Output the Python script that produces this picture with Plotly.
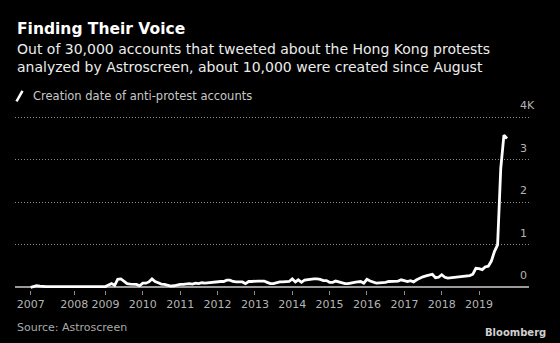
import pandas as pd
import plotly.graph_objects as go

# Monthly count of newly created anti-protest accounts (thousands)
v2007 = [0.00, 0.02, 0.04, 0.03, 0.02, 0.02, 0.02, 0.02, 0.02, 0.02, 0.02, 0.02]
v2008 = [0.02, 0.02, 0.02, 0.02, 0.02, 0.02, 0.02, 0.02, 0.02, 0.02, 0.02, 0.02]
v2009 = [0.02, 0.06, 0.09, 0.05, 0.19, 0.20, 0.14, 0.09, 0.08, 0.08, 0.07, 0.04]
v2010 = [0.10, 0.10, 0.13, 0.20, 0.14, 0.11, 0.08, 0.07, 0.05, 0.03, 0.04, 0.06]
v2011 = [0.07, 0.07, 0.08, 0.09, 0.08, 0.10, 0.09, 0.11, 0.10, 0.11, 0.12, 0.12]
v2012 = [0.13, 0.14, 0.14, 0.17, 0.17, 0.14, 0.13, 0.13, 0.13, 0.09, 0.14, 0.14]
v2013 = [0.15, 0.15, 0.15, 0.15, 0.12, 0.09, 0.09, 0.11, 0.13, 0.13, 0.13, 0.14]
v2014 = [0.20, 0.13, 0.18, 0.12, 0.17, 0.18, 0.20, 0.20, 0.20, 0.19, 0.16, 0.16]
v2015 = [0.12, 0.12, 0.15, 0.13, 0.10, 0.09, 0.09, 0.11, 0.12, 0.13, 0.14, 0.10]
v2016 = [0.19, 0.15, 0.12, 0.10, 0.11, 0.11, 0.12, 0.14, 0.14, 0.15, 0.15, 0.18]
v2017 = [0.16, 0.14, 0.16, 0.13, 0.18, 0.22, 0.25, 0.27, 0.29, 0.31, 0.23, 0.24]
v2018 = [0.30, 0.24, 0.22, 0.23, 0.23, 0.24, 0.25, 0.26, 0.27, 0.28, 0.31, 0.45]
v2019 = [0.44, 0.42, 0.48, 0.50, 0.62, 0.85, 1.00, 2.80, 3.58, 3.50]

values = (v2007 + v2008 + v2009 + v2010 + v2011 + v2012 + v2013
          + v2014 + v2015 + v2016 + v2017 + v2018 + v2019)
months = pd.date_range("2007-01-01", periods=len(values), freq="MS")

year_labels = ["2007", "2008", "2009", "2010", "2011", "2012", "2013",
               "2014", "2015", "2016", "2017", "2018", "2019"]
year_ticks = ["2007-01-01", "2008-03-01", "2009-01-01", "2010-01-01",
              "2011-01-01", "2012-01-01", "2013-01-01", "2014-01-01",
              "2015-01-01", "2016-01-01", "2017-01-01", "2018-01-01",
              "2019-01-01"]
y_ticks = [0, 1, 2, 3, 4]
y_labels = ["0", "1", "2", "3", "4K"]

title = "Finding Their Voice"
subtitle = ("Out of 30,000 accounts that tweeted about the Hong Kong protests<br>"
            "analyzed by Astroscreen, about 10,000 were created since August")
legend_label = "Creation date of anti-protest accounts"
source = "Source: Astroscreen"

FONT = "DejaVu Sans"
W, H = 560, 343
LEFT, RIGHT = 15, 529
Y_RANGE = [-0.06, 4.1]
ZERO_PX, PX_PER_K = 287.0, 42.43
TOP = ZERO_PX - Y_RANGE[1] * PX_PER_K
BOTTOM = ZERO_PX - Y_RANGE[0] * PX_PER_K


def px_x(px):
    return (px - LEFT) / (RIGHT - LEFT)


def px_y(py):
    return (BOTTOM - py) / (BOTTOM - TOP)


fig = go.Figure()
fig.add_trace(go.Scatter(
    x=months, y=values, mode="lines",
    line=dict(color="#ffffff", width=2.8),
    hoverinfo="skip", showlegend=False,
))

fig.update_layout(
    width=W, height=H,
    paper_bgcolor="#000000", plot_bgcolor="#000000",
    margin=dict(l=LEFT, r=W - RIGHT, t=TOP, b=H - BOTTOM, autoexpand=False),
    font=dict(family=FONT, color="#b4b4b4", size=11),
    xaxis=dict(
        type="date", range=["2006-08-01", "2020-05-03"],
        tickvals=year_ticks, ticktext=year_labels,
        ticks="outside", ticklen=4, tickwidth=1, tickcolor="#8c8c8c",
        showgrid=False, zeroline=False, showline=False,
        tickfont=dict(size=11, color="#b4b4b4", family=FONT),
        fixedrange=True,
    ),
    yaxis=dict(
        side="right", range=Y_RANGE,
        tickvals=y_ticks, ticktext=y_labels,
        ticks="", showline=False,
        showgrid=True, gridcolor="#8c8c8c", gridwidth=1, griddash="1px,2px",
        zeroline=True, zerolinecolor="#9a9a9a", zerolinewidth=1.5,
        ticklabelstandoff=-10, ticklabelshift=-12,
        tickfont=dict(size=11, color="#b4b4b4", family=FONT),
        fixedrange=True,
    ),
    shapes=[dict(
        type="line", xref="paper", yref="paper",
        x0=px_x(16.5), y0=px_y(101.5), x1=px_x(22.5), y1=px_y(91),
        line=dict(color="#ffffff", width=2.5),
    )],
    annotations=[
        dict(text=f"<b>{title}</b>", xref="paper", yref="paper",
             x=px_x(15), y=px_y(29), xanchor="left", yanchor="middle",
             showarrow=False, font=dict(size=15.5, color="#ffffff", family=FONT)),
        dict(text=subtitle, xref="paper", yref="paper", align="left",
             x=px_x(15), y=px_y(58), xanchor="left", yanchor="middle",
             showarrow=False, font=dict(size=14, color="#ececec", family=FONT)),
        dict(text=legend_label, xref="paper", yref="paper",
             x=px_x(31), y=px_y(96.5), xanchor="left", yanchor="middle",
             showarrow=False, font=dict(size=11.5, color="#c8c8c8", family=FONT)),
        dict(text=source, xref="paper", yref="paper",
             x=px_x(15), y=px_y(326.5), xanchor="left", yanchor="middle",
             showarrow=False, font=dict(size=11, color="#aaaaaa", family=FONT)),
        dict(text="<b>Bloomberg</b>", xref="paper", yref="paper",
             x=px_x(548), y=px_y(331.5), xanchor="right", yanchor="middle",
             showarrow=False, font=dict(size=10, color="#d0d0d0", family=FONT)),
    ],
)

fig.write_html("out.html")
